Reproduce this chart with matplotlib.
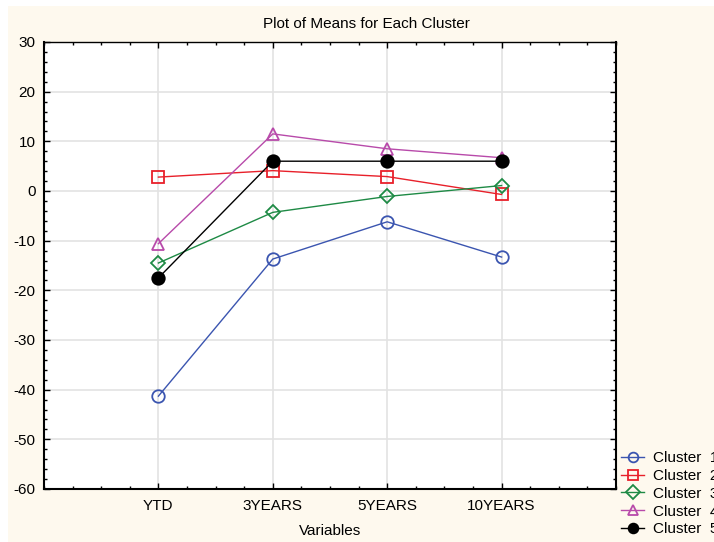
import matplotlib
matplotlib.use("Agg")
import matplotlib.pyplot as plt
from matplotlib.patches import Rectangle
from matplotlib.ticker import MultipleLocator, FixedLocator

plt.rcParams['font.family'] = ['Liberation Sans', 'DejaVu Sans']
plt.rcParams['axes.unicode_minus'] = False

variables = ["YTD", "3YEARS", "5YEARS", "10YEARS"]
cluster1 = [-41.3, -13.7, -6.2, -13.3]
cluster2 = [2.8, 4.1, 2.9, -0.7]
cluster3 = [-14.5, -4.3, -1.1, 1.1]
cluster4 = [-10.6, 11.5, 8.5, 6.7]
cluster5 = [-17.5, 6.0, 6.0, 6.0]
labels = ["Cluster  1", "Cluster  2", "Cluster  3", "Cluster  4", "Cluster  5"]

W, H = 714, 542
fig = plt.figure(figsize=(W/100, H/100), dpi=100, facecolor="white")
fig.patches.append(Rectangle((8/W, 0.0), 1 - 8/W, 1 - 6/H, transform=fig.transFigure,
                             facecolor="#FEF9EE", edgecolor="none", zorder=-10))

ax = fig.add_axes([44/W, 1 - 489/H, (616-44)/W, (489-42)/H])
ax.set_facecolor("white")

x = list(range(1, len(variables) + 1))
series = [cluster1, cluster2, cluster3, cluster4, cluster5]
colors = ["#3B55B0", "#E8202A", "#1E8A45", "#B84AAA", "#000000"]
markers = ["o", "s", "D", "^", "o"]
sizes = [9, 9, 7, 8.5, 9]
handles = []
for i, (ys, c, m, ms) in enumerate(zip(series, colors, markers, sizes)):
    face = c if i == 4 else "none"
    h, = ax.plot(x, ys, color=c, lw=1.0, marker=m, markersize=ms,
                 markerfacecolor=face, markeredgecolor=c, markeredgewidth=1.3,
                 label=labels[i], zorder=3 + i)
    handles.append(h)

ax.set_xlim(0, 5)
ax.set_ylim(-60, 30)
ax.xaxis.set_major_locator(FixedLocator(x))
ax.set_xticklabels(variables)
ax.xaxis.set_minor_locator(MultipleLocator(0.25))
ax.yaxis.set_major_locator(MultipleLocator(10))
ax.yaxis.set_minor_locator(MultipleLocator(2))
ax.tick_params(which="both", direction="in", top=True, right=True, labelsize=11,
               colors="black")
ax.tick_params(axis="x", pad=7)
ax.tick_params(axis="y", pad=6)
ax.tick_params(which="major", length=4, width=1)
ax.tick_params(which="minor", length=2.5, width=1)
ax.grid(True, which="major", color="#E3E3E3", lw=1.2)
ax.set_axisbelow(True)
for side in ["left", "bottom", "right", "top"]:
    ax.spines[side].set_linewidth(1.5 if side in ("left", "bottom", "right") else 1.0)
    ax.spines[side].set_color("black")

fig.text(366/W, 1 - 24/H, "Plot of Means for Each Cluster", fontsize=11,
         ha="center", va="center")
ax.set_xlabel("Variables", fontsize=11, labelpad=8)

leg = fig.legend(handles=handles, labels=labels, loc="upper left",
                 bbox_to_anchor=(618/W, 1 - 448/H), frameon=False, fontsize=11,
                 handlelength=1.5, handletextpad=0.6, labelspacing=0.25,
                 borderaxespad=0, borderpad=0.2)
for h in leg.legend_handles:
    h.set_markersize(7)

fig.savefig("out.png", dpi=100, facecolor=fig.get_facecolor())
